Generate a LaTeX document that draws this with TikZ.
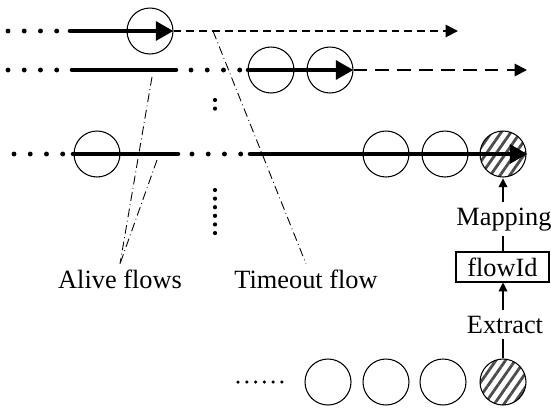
\documentclass[tikz,border=0pt]{standalone}
\usepackage{fontspec}
\setmainfont{Liberation Serif}
\usetikzlibrary{arrows.meta,patterns.meta}

\tikzset{
  pkt/.style={circle, draw, line width=0.6pt, minimum size=0.92cm, inner sep=0pt},
  hatched/.style={pkt, pattern={Lines[angle=55,distance=4.5pt,line width=1.6pt]}, pattern color=black!70},
  flow/.style={line width=2.6pt, line cap=round},
  bigtip/.style={-{Triangle[length=10pt,width=10.5pt]}},
  rowdots/.style={line width=2.8pt, line cap=round, dash pattern=on 0pt off 9.24pt},
  smalldots/.style={line width=2.4pt, line cap=round, dash pattern=on 0pt off 4.9pt},
  pointer/.style={line width=0.5pt, dash pattern=on 5pt off 2pt on 0.5pt off 2pt},
  lbl/.style={font=\fontsize{15}{18}\selectfont, inner sep=3pt},
  small/.style={line width=0.6pt, -{Triangle[length=5pt,width=5pt]}}
}

\begin{document}
\begin{tikzpicture}[x=0.02cm, y=-0.02cm]
    \useasboundingbox (0,0) rectangle (551,407);

    % packets on the flows
    \node[pkt] (p11) at (150,31) {};
    \node[pkt] (p21) at (271,70) {};
    \node[pkt] (p22) at (330,70) {};
    \node[pkt] (p31) at (97,154) {};
    \node[pkt] (p32) at (386,154) {};
    \node[pkt] (p33) at (445,154) {};
    \node[hatched] (p34) at (503,154) {};

    % incoming packets
    \node[pkt] (b1) at (328,382) {};
    \node[pkt] (b2) at (386,382) {};
    \node[pkt] (b3) at (443,382) {};
    \node[hatched] (b4) at (503,382) {};

    \coordinate (end1) at (458,31);
    \coordinate (end2) at (527,70);
    \coordinate (t0) at (213,31);
    \coordinate (a1) at (152,77);
    \coordinate (a2) at (157,160);

    % flow 1 (timed out)
    \draw[rowdots] (8,31) -- (57,31);
    \draw[flow, bigtip] (70,31) -- (p11.east);
    \draw[line width=1.1pt, dash pattern=on 4.5pt off 2.8pt,
          -{Triangle[length=7pt,width=7pt]}] (p11.east) -- (end1);

    % flow 2
    \draw[rowdots] (8,70) -- (57,70);
    \draw[flow] (72,70) -- (176,70);
    \draw[rowdots] (191,70) -- (240,70);
    \draw[flow, bigtip] (248,70) -- (p22.east);
    \draw[line width=1.1pt, dash pattern=on 7.5pt off 5pt,
          -{Triangle[length=7pt,width=7pt]}] (p22.east) -- (end2);

    % flow 3
    \draw[rowdots] (14,154) -- (63,154);
    \draw[flow] (73,154) -- (178,154);
    \draw[rowdots] (192,154) -- (242,154);
    \draw[flow, bigtip] (250,154) -- (p34.east);

    \draw[smalldots] (215,100) -- (215,117);
    \draw[smalldots] (215,190) -- (215,234);
    \draw[line width=2pt, line cap=round, dash pattern=on 0pt off 5pt] (238,382) -- (282,382);

    % labels
    \node[lbl, anchor=base] (alive) at (120,288) {Alive flows};
    \node[lbl, anchor=base] (timeout) at (306,288) {Timeout flow};
    \draw[pointer] (a1) -- (alive.north);
    \draw[pointer] (a2) -- (alive.north);
    \draw[pointer] (t0) -- (timeout.north);

    % flowId lookup
    \node[lbl, anchor=base] (mapping) at (504,225) {Mapping};
    \node[draw, line width=0.6pt, font=\fontsize{15}{18}\selectfont,
          minimum width=1.86cm, minimum height=0.6cm, inner sep=0pt] (flowid) at (502.5,267) {flowId};
    \node[lbl, anchor=base] (extract) at (505,333) {Extract};

    \draw[small] (p34.south |- mapping.north) -- (p34.south);
    \draw[line width=0.6pt] (p34.south |- mapping.south) -- (p34.south |- flowid.north);
    \draw[small] (p34.south |- extract.north) -- (p34.south |- flowid.south);
    \draw[line width=0.6pt] (b4.north) -- (b4.north |- extract.south);

\end{tikzpicture}
\end{document}
